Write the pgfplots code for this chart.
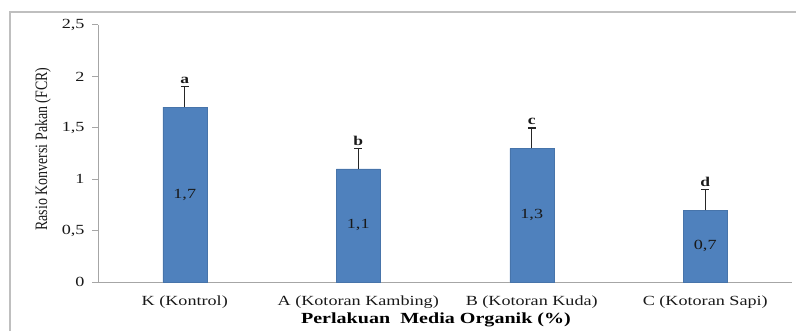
\documentclass[border=0pt]{standalone}
\usepackage{graphicx}
\usepackage{pgfplots}
\pgfplotsset{compat=1.18}
\usepackage{fontspec}
\setmainfont[FakeStretch=1.3]{Liberation Serif}
\newfontfamily\plainserif{Liberation Serif}
\definecolor{barblue}{HTML}{4F81BD}
\definecolor{axgray}{HTML}{A6A6A6}
\definecolor{framegray}{HTML}{BFBFBF}
\begin{document}
\begin{tikzpicture}[x=1bp,y=1bp]
\useasboundingbox (0,0) rectangle (796,331);
\draw[color=framegray, line width=1.5bp] (10,0) -- (10,319) -- (796,319);
\begin{axis}[
  at={(98bp,49bp)}, anchor=south west,
  scale only axis, width=694bp, height=257bp,
  xmin=-0.5, xmax=3.5, ymin=0, ymax=2.5,
  axis x line*=bottom, axis y line*=left,
  axis line style={color=axgray, line width=1bp},
  xtick={0,1,2,3},
  xticklabels={K (Kontrol), A (Kotoran Kambing), B (Kotoran Kuda), C (Kotoran Sapi)},
  xtick style={draw=none},
  ytick={0,0.5,1,1.5,2,2.5},
  ytick style={color=axgray, line width=1bp},
  tick align=outside, major tick length=6bp,
  /pgf/number format/assume math mode=true,
  /pgf/number format/use comma,
  /pgf/number format/fixed,
  yticklabel style={font=\fontsize{14}{14}\selectfont, color=black!90, xshift=-4bp},
  xticklabel style={font=\fontsize{14}{14}\selectfont, color=black!90, yshift=-4bp},
  xlabel={\textbf{Perlakuan\ \ Media Organik (\%)}},
  xlabel style={font=\fontsize{15.5}{15.5}\selectfont, at={(axis description cs:0.487,-0.148)}, anchor=center},
  ylabel={\scalebox{1}[1.25]{\plainserif Rasio Konversi Pakan (FCR)}},
  ylabel style={font=\fontsize{14}{14}\selectfont, color=black!90, at={(axis description cs:-0.0793,0.5175)}, anchor=center},
  clip=false,
]
\addplot[ybar, bar width=44bp, fill=barblue, draw=barblue!90!black, line width=0.4bp,
  error bars/.cd, y dir=plus, y explicit,
  error bar style={line width=1.4bp, color=black!85},
  error mark options={rotate=90, mark size=4bp, line width=1.4bp, color=black!85}]
  coordinates {(0,1.7) +- (0,0.2) (1,1.1) +- (0,0.2) (2,1.3) +- (0,0.2) (3,0.7) +- (0,0.2)};
\addplot[draw=none, mark=none, nodes near coords, point meta=explicit symbolic,
  nodes near coords style={font=\fontsize{14}{14}\selectfont, color=black!90, anchor=center}]
  coordinates {(0,0.85)[1,7] (1,0.55)[1,1] (2,0.65)[1,3] (3,0.35)[0,7]};
\addplot[draw=none, mark=none, nodes near coords, point meta=explicit symbolic,
  nodes near coords style={font=\fontsize{13.5}{13.5}\selectfont\bfseries, color=black!90, anchor=south, inner sep=2.5bp}]
  coordinates {(0,1.9)[a] (1,1.3)[b] (2,1.5)[c] (3,0.9)[d]};
\end{axis}
\end{tikzpicture}
\end{document}
